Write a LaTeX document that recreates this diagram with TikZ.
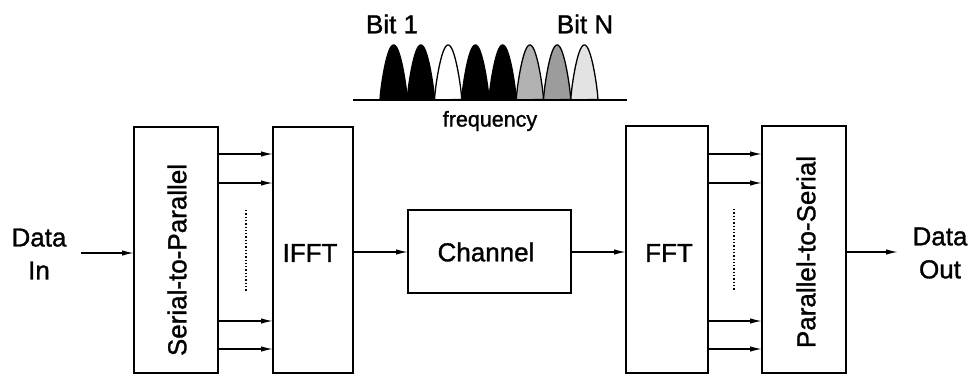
\documentclass[tikz,border=0pt]{standalone}
\usepackage{fontspec}
\setmainfont{Liberation Sans}[FakeBold=1.2]
\usetikzlibrary{arrows.meta,calc}

\newcommand\biglbl{\fontsize{26}{33}\selectfont}
\newcommand\smalllbl{\fontsize{21.5}{26}\selectfont}

\begin{document}
\begin{tikzpicture}[x=1pt,y=-1pt,
  block/.style={draw,line width=1.8pt,inner sep=0pt,outer sep=0pt,font=\biglbl},
  arr/.style={line width=1.4pt,-{Latex[length=12pt,width=5.5pt]}},
  txt/.style={inner sep=0pt,font=\biglbl},
  hump/.style={draw,line width=1.3pt}]

  % page frame
  \useasboundingbox (0,0) rectangle (971,375);

  % spectrum sketch: one arch per sub-carrier
  \foreach \i/\col in {0/black,1/black,2/white,3/black,4/black,5/gray!60,6/gray!78,7/gray!22}{
    \pgfmathsetmacro\xl{380+27.25*\i}
    \filldraw[hump,fill=\col] (\xl,100)
      -- plot[domain=0:1,samples=60,smooth] ({\xl+27.25*\x},{100-55*(sin(180*\x))^0.75}) -- cycle;
  }
  \draw[line width=1.6pt] (353,100) -- (627,100);
  \node[txt] (bit1) at (392,24) {Bit 1};
  \node[txt] (bitn) at (585,24) {Bit N};
  \node[inner sep=0pt,font=\smalllbl] (freq) at (490,121) {frequency};

  % processing chain
  \node[block,minimum width=84pt,minimum height=246pt] (s2p) at (176,250) {};
  \node[block,minimum width=80pt,minimum height=246pt] (ifft) at (313,250) {};
  \node[block,minimum width=163pt,minimum height=83pt] (chan) at (489.5,251.5) {};
  \node[block,minimum width=82pt,minimum height=247pt] (fft) at (667,249.5) {};
  \node[block,minimum width=84pt,minimum height=247pt] (p2s) at (804,249.5) {};

  % block labels
  \node[txt,rotate=90] (s2pl) at (177,260) {Serial-to-Parallel};
  \node[txt] (ifftl) at (310,253) {IFFT};
  \node[txt] (chanl) at (486,252) {Channel};
  \node[txt] (fftl) at (669,253) {FFT};
  \node[txt,rotate=90] (p2sl) at (806,252) {Parallel-to-Serial};

  % input / output
  \node[txt,align=center] (din) at (39,254) {Data\\In};
  \node[txt,align=center] (dout) at (940,253) {Data\\Out};
  \coordinate (inStart) at (81,253);
  \coordinate (outEnd) at (898,252);
  \draw[arr] (inStart) -- (inStart -| s2p.west);
  \draw[arr] (p2s.east |- outEnd) -- (outEnd);

  % serial links
  \draw[arr] (ifft.east |- 0,252) -- (chan.west |- 0,252);
  \draw[arr] (chan.east |- 0,252) -- (fft.west |- 0,252);

  % parallel links
  \foreach \y in {154,183,321,349}{
    \draw[arr] (s2p.east |- 0,\y) -- (ifft.west |- 0,\y);
    \draw[arr] (fft.east |- 0,\y) -- (p2s.west |- 0,\y);
  }
  \draw[dotted,line width=1.3pt] (246,210) -- (246,292);
  \draw[dotted,line width=1.3pt] (734,209) -- (734,290);
\end{tikzpicture}
\end{document}
